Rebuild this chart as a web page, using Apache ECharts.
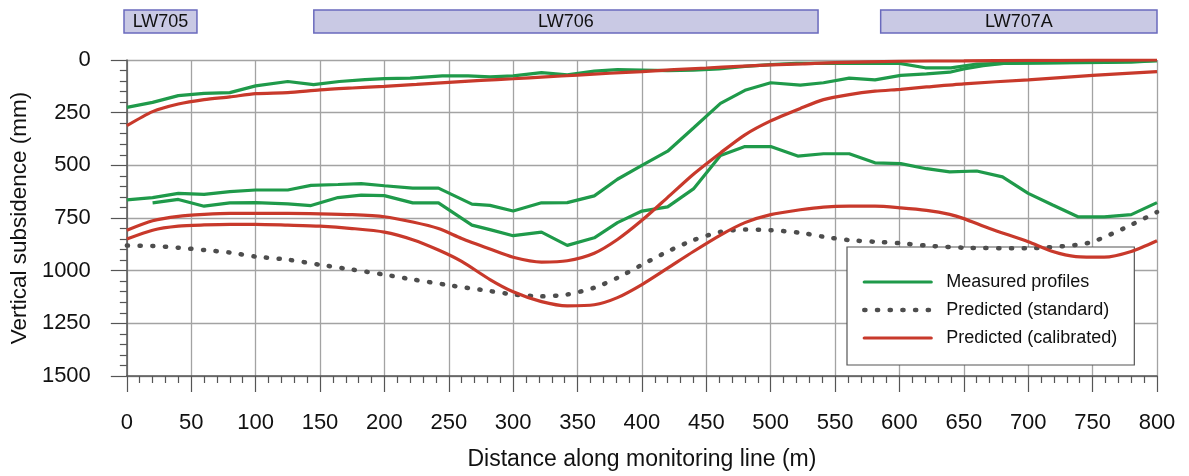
<!DOCTYPE html>
<html><head><meta charset="utf-8">
<script src="https://cdn.jsdelivr.net/npm/echarts@6/dist/echarts.min.js"></script>
<style>html,body{margin:0;padding:0;background:#fff}#c{width:1189px;height:476px}</style>
</head><body><div id="c"></div>
<script>
// Panels (top bars)
const panelNames = ['LW705', 'LW706', 'LW707A'];
const panelStart = [0, 147, 586];
const panelEnd = [56.5, 537.5, 800];

// Measured profile A (upper)
const measAx = [0,20,40,60,80,100,125,145,165,185,200,220,245,265,282,300,322,342,363,381,400,420,440,460,480,500,520,550,580,600,620,640,660,680,700,740,780,800];
const measAy = [225,201,169,158,155,123,102,117,102,93,88,86,75,75,80,75,60,70,53,46,48,50,48,42,30,22,16,16,16,16,37,37,19,16,15,12,10,3];
// Measured profile B (middle)
const measBx = [0,20,40,60,80,100,125,143,164,182,200,222,242,268,282,300,322,342,363,381,400,420,440,461,480,500,523,541,561,581,601,621,639,650,665,681,700,750,800];
const measBy = [664,653,633,638,625,617,617,595,591,587,597,608,608,684,690,717,678,677,645,566,500,433,323,206,144,108,119,108,86,94,73,66,58,42,27,16,14,10,3];
// Measured profile C (lower)
const measCx = [20,40,60,80,100,125,143,164,182,200,222,242,268,282,300,322,342,363,381,400,420,440,461,480,500,521,541,561,581,601,621,639,660,680,700,719,739,759,780,800];
const measCy = [678,662,694,678,677,683,691,653,641,644,678,678,784,805,834,817,880,844,772,717,697,612,453,411,411,456,445,445,488,492,516,531,527,555,633,688,745,745,734,677];

// Predicted (standard)
const stdX = [0,20,40,60,80,100,125,150,175,200,222,250,282,300,322,342,363,381,400,420,440,461,480,500,523,541,561,581,601,621,650,700,737,750,774,800];
const stdY = [881,883,891,902,914,933,948,972,995,1019,1042,1069,1097,1113,1122,1113,1081,1034,972,909,855,816,805,808,820,839,855,863,870,881,891,894,878,863,800,722];

// Predicted (calibrated) A, B, C
const calAx = [0,20,40,60,80,100,125,150,175,200,225,250,275,300,325,350,375,400,425,450,475,500,525,550,600,650,700,750,800];
const calAy = [312,245,209,188,175,160,155,142,133,125,116,106,97,89,80,72,63,55,46,38,30,23,18,12,6,4,2,1,0];
const calBx = [0,20,40,60,80,100,125,150,175,200,222,242,260,282,300,322,342,363,381,400,420,440,461,480,500,523,541,561,581,601,621,650,700,750,800];
const calBy = [808,763,742,733,728,728,728,730,734,744,769,800,847,897,936,959,953,917,852,761,652,542,441,355,289,230,188,164,148,139,128,113,94,73,55];
const calCx = [0,20,40,60,80,100,125,150,175,200,222,242,260,282,300,322,342,363,381,400,420,440,461,480,500,523,541,561,581,601,621,639,650,670,700,719,737,759,780,800];
const calCy = [850,808,789,783,780,780,784,789,800,817,853,902,956,1042,1100,1147,1167,1162,1128,1066,988,909,831,772,734,711,698,694,694,702,714,733,753,800,863,909,933,936,909,858];

const legendNames = ['Measured profiles', 'Predicted (standard)', 'Predicted (calibrated)'];

const FONT = '"Liberation Sans", Arial, sans-serif';
const GREEN = '#1f9a4a';
const RED = '#c8392b';
const DOT = '#4d4d4d';

function pts(xs, ys) { return xs.map((x, i) => [x, ys[i]]); }

function lineSeries(name, xs, ys, color, dotted) {
  return {
    name: name, type: 'line', xAxisIndex: 0, yAxisIndex: 0,
    data: pts(xs, ys), symbol: 'none', showSymbol: false, z: 3,
    smooth: dotted || color === RED ? 0.25 : false,
    lineStyle: dotted
      ? { color: color, width: 4.5, type: [1.2, 11.5], cap: 'round' }
      : { color: color, width: 3.2 },
    itemStyle: { color: color },
    emphasis: { disabled: true }, silent: true, animation: false
  };
}

const chart = echarts.init(document.getElementById('c'));
chart.setOption({
  animation: false,
  backgroundColor: '#fff',
  textStyle: { fontFamily: FONT },
  grid: [
    { left: 124, right: 32, top: 60, bottom: 97 },
    { left: 124, right: 32, top: 10, height: 23 }
  ],
  xAxis: [
    {
      type: 'value', gridIndex: 0, min: 0, max: 800, interval: 50,
      position: 'bottom',
      name: 'Distance along monitoring line (m)', nameLocation: 'middle', nameGap: 72,
      nameTextStyle: { fontSize: 23, color: '#111', fontFamily: FONT },
      axisLine: { show: true, onZero: false, lineStyle: { color: '#555', width: 1.5 } },
      axisTick: { show: true, length: 16, lineStyle: { color: '#555', width: 1.2 } },
      minorTick: { show: true, splitNumber: 5, length: 7, lineStyle: { color: '#555', width: 1.2 } },
      axisLabel: { fontSize: 22, color: '#111', margin: 36, fontFamily: FONT, formatter: v => String(v) },
      splitLine: { show: true, lineStyle: { color: '#a3a3a3', width: 1.3 } }
    },
    { type: 'value', gridIndex: 1, min: 0, max: 800, show: false }
  ],
  yAxis: [
    {
      type: 'value', gridIndex: 0, min: 0, max: 1500, interval: 250, inverse: true,
      name: 'Vertical subsidence (mm)', nameLocation: 'middle', nameGap: 88,
      nameTextStyle: { fontSize: 22.5, color: '#111', fontFamily: FONT },
      axisLine: { show: true, lineStyle: { color: '#555', width: 1.5 } },
      axisTick: { show: true, length: 16, lineStyle: { color: '#555', width: 1.2 } },
      minorTick: { show: true, splitNumber: 5, length: 7, lineStyle: { color: '#555', width: 1.2 } },
      axisLabel: { fontSize: 22, color: '#111', margin: 36, fontFamily: FONT, formatter: v => String(v) },
      splitLine: { show: true, lineStyle: { color: '#a3a3a3', width: 1.3 } }
    },
    { type: 'value', gridIndex: 1, min: 0, max: 1, show: false }
  ],
  legend: {
    data: legendNames.map(n => ({ name: n })),
    orient: 'vertical', left: 847, top: 247,
    padding: [26, 17, 18, 15],
    itemWidth: 67, itemHeight: 14, itemGap: 10,
    backgroundColor: '#fff', borderColor: '#555', borderWidth: 1.2,
    z: 1, selectedMode: false,
    itemStyle: { opacity: 0 },
    lineStyle: { width: 'inherit', type: 'inherit', cap: 'round' },
    textStyle: { fontSize: 18, color: '#111', fontFamily: FONT, padding: [0, 0, 0, 10] }
  },
  series: [
    {
      type: 'custom', xAxisIndex: 1, yAxisIndex: 1, silent: true,
      data: panelNames.map((n, i) => [panelStart[i], panelEnd[i]]),
      renderItem: function (params, api) {
        const p0 = api.coord([api.value(0), 1]);
        const p1 = api.coord([api.value(1), 0]);
        return {
          type: 'group', children: [
            { type: 'rect', shape: { x: p0[0], y: p0[1], width: p1[0] - p0[0], height: p1[1] - p0[1] },
              style: { fill: '#c9c9e4', stroke: '#6a6abd', lineWidth: 1.5 } },
            { type: 'text', style: { text: panelNames[params.dataIndex], x: (p0[0] + p1[0]) / 2, y: (p0[1] + p1[1]) / 2 + 1,
              align: 'center', verticalAlign: 'middle', fontSize: 18, fill: '#111', fontFamily: FONT } }
          ]
        };
      }
    },
    lineSeries(legendNames[0], measAx, measAy, GREEN, false),
    lineSeries(legendNames[0], measBx, measBy, GREEN, false),
    lineSeries(legendNames[0], measCx, measCy, GREEN, false),
    lineSeries(legendNames[1], stdX, stdY, DOT, true),
    lineSeries(legendNames[2], calAx, calAy, RED, false),
    lineSeries(legendNames[2], calBx, calBy, RED, false),
    lineSeries(legendNames[2], calCx, calCy, RED, false)
  ]
});
</script>
</body></html>
